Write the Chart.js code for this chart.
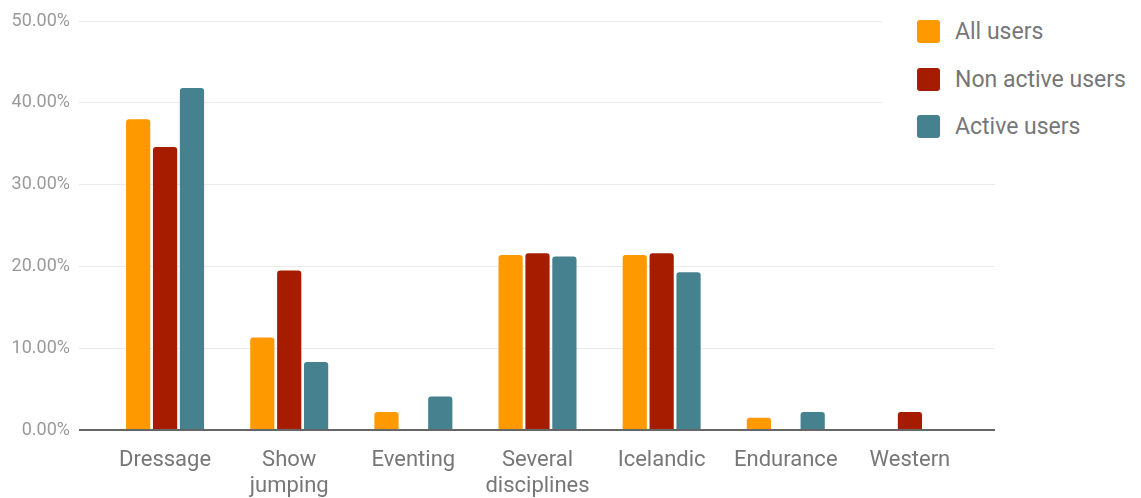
<!DOCTYPE html>
<html>
<head>
<meta charset="utf-8">
<script src="https://cdn.jsdelivr.net/npm/chart.js@4/dist/chart.umd.min.js"></script>
<style>
  html, body { margin: 0; padding: 0; background: #fff; }
  #wrap { position: relative; width: 1141px; height: 498px; }
  #legend {
    position: absolute; left: 882px; top: 0; width: 259px; height: 158px;
    background: #fff; font-family: Roboto, sans-serif; font-size: 23px; color: #777777;
  }
  .item { position: absolute; left: 35px; height: 23px; display: flex; align-items: center; }
  .sw { width: 23px; height: 23px; border-radius: 3px; margin-right: 15px; }
</style>
</head>
<body>
<div id="wrap">
  <canvas id="chart" width="1141" height="498"></canvas>
  <div id="legend"></div>
</div>
<script>
// categories and series (percent)
const disciplines = ["Dressage", ["Show", "jumping"], "Eventing", ["Several", "disciplines"], "Icelandic", "Endurance", "Western"];
const seriesNames = ["All users", "Non active users", "Active users"];
const allUsers = [38.0, 11.3, 2.2, 21.4, 21.4, 1.5, 0];
const nonActiveUsers = [34.6, 19.5, 0, 21.6, 21.6, 0, 2.2];
const activeUsers = [41.8, 8.3, 4.1, 21.2, 19.3, 2.2, 0];
const colors = ["#ff9900", "#a61c00", "#45818e"];

const gridCol = ctx => ctx.tick && ctx.tick.value === 0 ? "#666666" : "#ebebeb";
const gridW = ctx => ctx.tick && ctx.tick.value === 0 ? 2 : 1;

function barSet(i, data) {
  return {
    label: seriesNames[i],
    data: data,
    backgroundColor: colors[i],
    borderRadius: 3,
    categoryPercentage: 0.65,
    barPercentage: 0.9,
    yAxisID: "y"
  };
}

new Chart(document.getElementById("chart"), {
  type: "bar",
  data: {
    labels: disciplines,
    datasets: [barSet(0, allUsers), barSet(1, nonActiveUsers), barSet(2, activeUsers)]
  },
  options: {
    responsive: false,
    animation: false,
    layout: { padding: { left: 0, right: 146, top: 21, bottom: 0 } },
    plugins: { legend: { display: false }, tooltip: { enabled: false } },
    scales: {
      x: {
        grid: { display: false },
        border: { display: false },
        ticks: {
          color: "#777777",
          font: { family: "Roboto", size: 22 },
          padding: 9,
          maxRotation: 0,
          autoSkip: false
        },
        afterFit: s => { s.height = 68; }
      },
      y: {
        min: 0, max: 50,
        border: { display: false },
        grid: { color: gridCol, tickColor: gridCol, lineWidth: gridW, tickLength: 24 },
        ticks: {
          stepSize: 10,
          color: "#9a9a9a",
          padding: 9,
          font: { family: "Roboto", size: 18 },
          callback: v => v.toFixed(2) + "%"
        },
        afterFit: s => { s.width = 103; }
      },
      y2: {
        position: "right",
        min: 0, max: 50,
        border: { display: false },
        grid: { drawOnChartArea: false, color: gridCol, tickColor: gridCol, lineWidth: gridW, tickLength: 23 },
        ticks: { stepSize: 10, display: false },
        afterFit: s => { s.width = 23; }
      }
    }
  }
});

// legend
const legend = document.getElementById("legend");
seriesNames.forEach((name, i) => {
  const item = document.createElement("div");
  item.className = "item";
  item.style.top = (20 + i * 47.5) + "px";
  item.innerHTML = '<span class="sw" style="background:' + colors[i] + '"></span><span>' + name + '</span>';
  legend.appendChild(item);
});
</script>
</body>
</html>
